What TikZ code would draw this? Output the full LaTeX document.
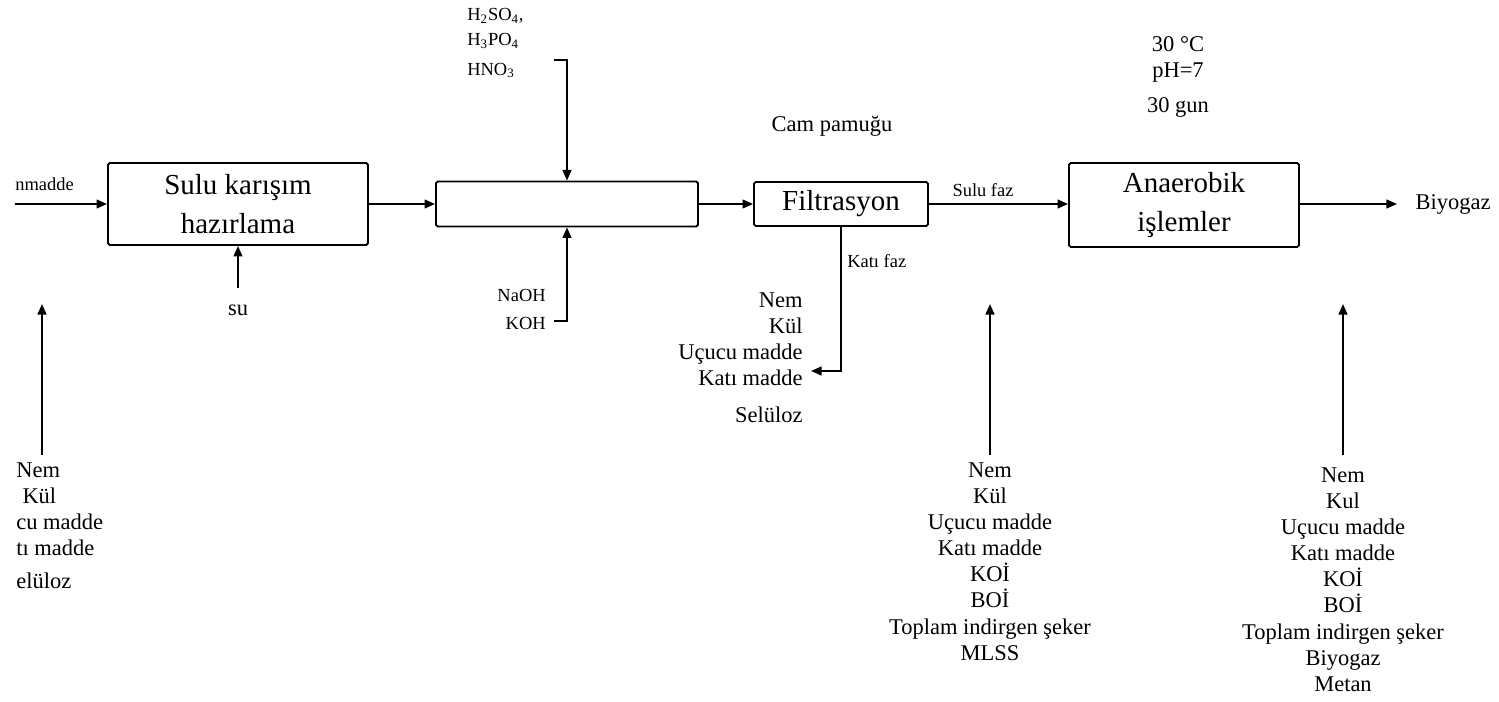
\documentclass[tikz,border=0pt]{standalone}
\usepackage{fontspec}
\setmainfont{Liberation Serif}
\usepackage{tikz}
\usetikzlibrary{arrows.meta, positioning}

\begin{document}
\begin{tikzpicture}[
  x=0.02cm, y=-0.02cm,
  >={Triangle[length=6pt,width=5pt]},
  flow/.style={->, line width=1.1pt},
  box/.style={draw, line width=1.1pt, rounded corners=1pt, align=center, inner sep=0pt, font=\fontsize{16.5}{22}\selectfont},
  lbl/.style={inner sep=0pt, font=\fontsize{10.5}{14}\selectfont},
  lst/.style={inner sep=0pt, align=center, font=\fontsize{12.8}{14.9}\selectfont}
]
\useasboundingbox (0,0) rectangle (1499,702);

\node[box, minimum width=5.2cm, minimum height=1.64cm] (prep) at (238,204) {Sulu karışım\\hazırlama};
\node[box, minimum width=5.24cm, minimum height=0.9cm] (treat) at (567,204) {};
\node[box, minimum width=3.48cm, minimum height=0.88cm] (filt) at (841,204) {Filtrasyon};
\node[box, minimum width=4.6cm, minimum height=1.68cm] (anae) at (1184,205) {Anaerobik\\işlemler};

\coordinate (feed) at (15,204);
\coordinate (suS) at (238,288);
\coordinate (inA) at (42,455);
\coordinate (inAtop) at (42,304);
\coordinate (acidL) at (554,60);
\coordinate (baseL) at (554,321);
\coordinate (solidEnd) at (811,371);
\coordinate (gasEnd) at (1397,204);
\coordinate (inB) at (990,455);
\coordinate (inBtop) at (990,304);
\coordinate (inC) at (1343,455);
\coordinate (inCtop) at (1343,304);

\node[lbl, anchor=west] (feedlbl) at (15,184) {nmadde};
\node[lst] (sulbl) at (238,310) {su};
\node[lbl, anchor=north west, align=left] (acidlbl) at (467,8) {H\textsubscript{2}SO\textsubscript{4},\\H\textsubscript{3}PO\textsubscript{4}\\[3pt]HNO\textsubscript{3}};
\node[lbl, anchor=north east, align=right] (baselbl) at (546,289) {NaOH\\[2pt]KOH};
\node[lst] (camlbl) at (832,126) {Cam pamuğu};
\node[lbl, anchor=south] (sululbl) at (983,197) {Sulu faz};
\node[lbl, anchor=west] (katilbl) at (847,261) {Katı faz};
\node[lst, anchor=east] (biolbl) at (1491,204) {Biyogaz};
\node[lst] (condlbl) at (1178,77) {30 °C\\pH=7\\[5pt]30 gun};

\node[lst, anchor=north west, align=left] (listA) at (16,462) {Nem\\\hspace{3.5pt}Kül\\cu madde\\tı madde\\[4pt]elüloz};
\node[lst, anchor=north east, align=right] (listF) at (803,292) {Nem\\Kül\\Uçucu madde\\Katı madde\\[6pt]Selüloz};
\node[lst, anchor=north] (listB) at (990,462) {Nem\\Kül\\Uçucu madde\\Katı madde\\KOİ\\BOİ\\Toplam indirgen şeker\\MLSS};
\node[lst, anchor=north] (listC) at (1343,467) {Nem\\Kul\\Uçucu madde\\Katı madde\\KOİ\\BOİ\\Toplam indirgen şeker\\Biyogaz\\Metan};

\draw[flow] (feed) -- (prep.west);
\draw[flow] (suS) -- (prep.south);
\draw[flow] (inA) -- (inAtop);
\draw[flow] (prep.east) -- (treat.west);
\draw[flow] (acidL) -| (treat.north);
\draw[flow] (baseL) -| (treat.south);
\draw[flow] (treat.east) -- (filt.west);
\draw[flow] (filt.east) -- (anae.west |- filt.east);
\draw[flow] (filt.south) |- (solidEnd);
\draw[flow] (anae.east |- gasEnd) -- (gasEnd);
\draw[flow] (inB) -- (inBtop);
\draw[flow] (inC) -- (inCtop);
\end{tikzpicture}
\end{document}
